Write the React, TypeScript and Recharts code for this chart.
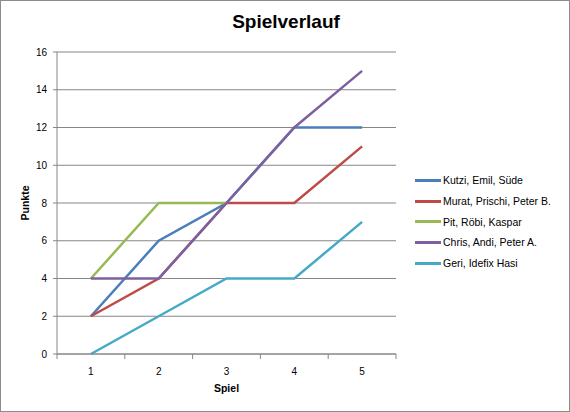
import React from "react";
import { LineChart, Line, XAxis, YAxis, CartesianGrid, Legend } from "recharts";

const games = ["1", "2", "3", "4", "5"];
const kutzi = [2, 6, 8, 12, 12];
const murat = [2, 4, 8, 8, 11];
const pit = [4, 8, 8, null, null];
const chris = [4, 4, 8, 12, 15];
const geri = [0, 2, 4, 4, 7];
const yTicks = [0, 2, 4, 6, 8, 10, 12, 14, 16];

const seriesList = [
  { key: "kutzi", name: "Kutzi, Emil, Süde", color: "#4A7EBB", values: kutzi },
  { key: "murat", name: "Murat, Prischi, Peter B.", color: "#BE4B48", values: murat },
  { key: "pit", name: "Pit, Röbi, Kaspar", color: "#98B954", values: pit },
  { key: "chris", name: "Chris, Andi, Peter A.", color: "#7D60A0", values: chris },
  { key: "geri", name: "Geri, Idefix Hasi", color: "#46AAC5", values: geri },
];

const data = games.map((g, i) => {
  const row: Record<string, string | number | null> = { game: g };
  seriesList.forEach((s) => (row[s.key] = s.values[i]));
  return row;
});

const W = 570;
const H = 412;
const PLOT_LEFT = 57;
const PLOT_RIGHT = 396;
const PLOT_TOP = 52;
const PLOT_BOTTOM = 354;
const HALF_BAND = (PLOT_RIGHT - PLOT_LEFT) / games.length / 2;
const GREY = "#868686";
const FONT = "'Liberation Sans', Arial, sans-serif";

function GameTick(props: any) {
  const { x, payload, index } = props;
  const last = index === games.length - 1;
  return (
    <g>
      <line x1={x - HALF_BAND} x2={x - HALF_BAND} y1={PLOT_BOTTOM} y2={PLOT_BOTTOM + 5} stroke={GREY} />
      {last && (
        <line x1={x + HALF_BAND} x2={x + HALF_BAND} y1={PLOT_BOTTOM} y2={PLOT_BOTTOM + 5} stroke={GREY} />
      )}
      <text x={x} y={PLOT_BOTTOM + 21} textAnchor="middle" fontSize={10} fill="#000" fontFamily={FONT}>
        {payload.value}
      </text>
    </g>
  );
}

function SideLegend() {
  return (
    <div style={{ fontFamily: FONT, fontSize: 10.5, color: "#000" }}>
      {seriesList.map((s) => (
        <div key={s.key} style={{ display: "flex", alignItems: "center", height: 20.7 }}>
          <span style={{ display: "inline-block", width: 26, height: 3, background: s.color, marginRight: 2 }} />
          <span>{s.name}</span>
        </div>
      ))}
    </div>
  );
}

export default function App() {
  return (
    <div
      style={{
        position: "absolute",
        left: 0,
        top: 0,
        width: W,
        height: H,
        boxSizing: "border-box",
        border: "1px solid #8c8c8c",
        background: "#fff",
      }}
    >
      <div
        style={{
          position: "absolute",
          left: 0,
          top: 10,
          width: W,
          textAlign: "center",
          fontFamily: FONT,
          fontWeight: "bold",
          fontSize: 19,
          color: "#000",
        }}
      >
        Spielverlauf
      </div>
      <div style={{ position: "absolute", left: -1, top: -1 }}>
        <LineChart
          width={W}
          height={H}
          data={data}
          margin={{ top: PLOT_TOP, right: W - PLOT_RIGHT, left: 0, bottom: 0 }}
        >
          <CartesianGrid vertical={false} stroke={GREY} />
          <XAxis
            dataKey="game"
            height={H - PLOT_BOTTOM}
            padding={{ left: HALF_BAND, right: HALF_BAND }}
            axisLine={{ stroke: GREY }}
            tickLine={false}
            tick={<GameTick />}
            interval={0}
            label={{
              value: "Spiel",
              position: "insideBottom",
              offset: 20,
              style: { fontFamily: FONT, fontWeight: "bold", fontSize: 10.5, fill: "#000" },
            }}
          />
          <YAxis
            width={PLOT_LEFT}
            domain={[0, 16]}
            ticks={yTicks}
            interval={0}
            axisLine={{ stroke: GREY }}
            tickLine={{ stroke: GREY }}
            tickSize={4}
            tickMargin={6}
            tick={{ fontFamily: FONT, fontSize: 10, fill: "#000" }}
            label={{
              value: "Punkte",
              angle: -90,
              position: "insideLeft",
              offset: 25,
              style: { textAnchor: "middle", fontFamily: FONT, fontWeight: "bold", fontSize: 10.5, fill: "#000" },
            }}
          />
          <Legend
            layout="vertical"
            align="center"
            verticalAlign="middle"
            wrapperStyle={{ position: "absolute", left: 415, top: 170, width: 150 }}
            content={() => <SideLegend />}
          />
          {seriesList.map((s) => (
            <Line
              key={s.key}
              type="linear"
              dataKey={s.key}
              name={s.name}
              stroke={s.color}
              strokeWidth={2.5}
              dot={false}
              isAnimationActive={false}
            />
          ))}
        </LineChart>
      </div>
    </div>
  );
}
